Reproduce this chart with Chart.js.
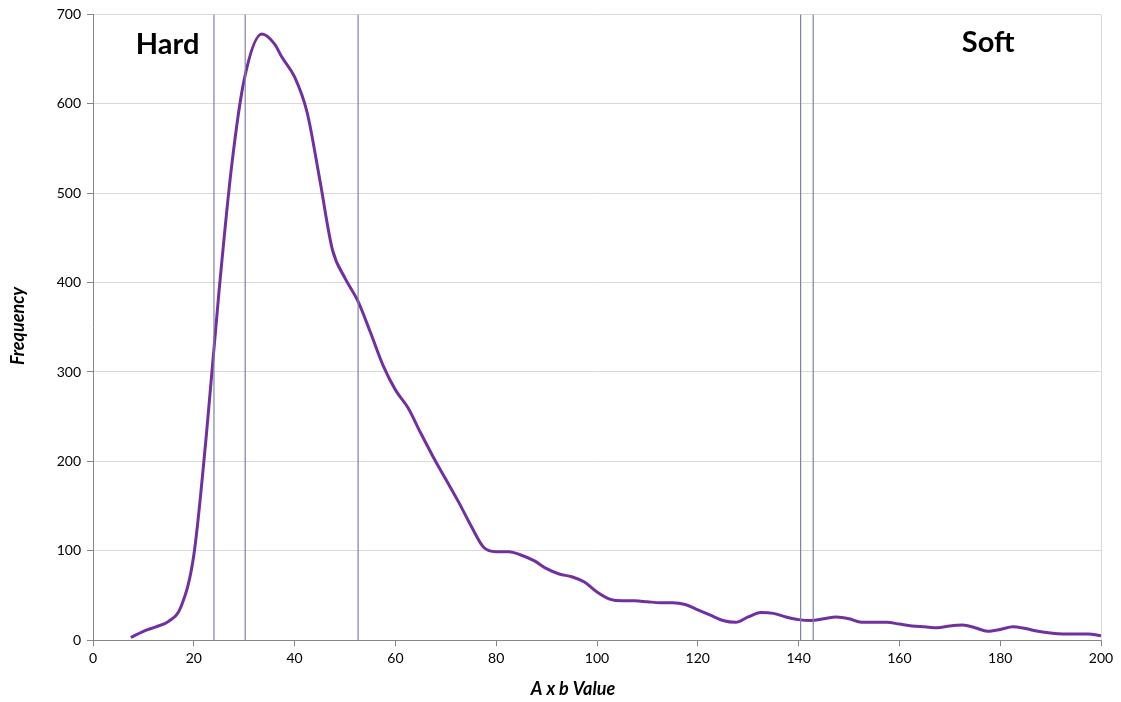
<!DOCTYPE html>
<html>
<head>
<meta charset="utf-8">
<script src="https://cdn.jsdelivr.net/npm/chart.js@4.4.0/dist/chart.umd.min.js"></script>
<style>
  html, body { margin: 0; padding: 0; background: #fff; }
  #wrap { width: 1121px; height: 702px; }
</style>
</head>
<body>
<div id="wrap"><canvas id="freqChart"></canvas></div>
<script>
// A x b values (x) and frequency
var abValues = [7.5, 10, 12.5, 15, 17.5, 20, 22.5, 25, 27.5, 30, 33.5, 36, 37.5, 40, 42.5, 45, 47.5, 50,
  52.5, 55, 57.5, 60, 62.5, 65, 67.5, 70, 72.5, 75, 77.5, 80, 82.5, 85, 87.5, 90, 92.5, 95, 97.5, 100,
  102.5, 105, 107.5, 110, 112.5, 115, 117.5, 120, 122.5, 125, 127.5, 130, 132.5, 135, 137.5, 140,
  142.5, 145, 147.5, 150, 152.5, 155, 157.5, 160, 162.5, 165, 167.5, 170, 172.5, 175, 177.5, 180,
  182.5, 185, 187.5, 190, 192.5, 195, 197.5, 200];
var frequency = [3, 10, 15, 21, 38, 95, 230, 390, 530, 627, 678, 667, 652, 630, 590, 515, 437, 405,
  380, 345, 308, 280, 260, 232, 205, 180, 155, 128, 104, 99, 99, 95, 89, 80, 74, 71, 65, 54,
  46, 44, 44, 43, 42, 42, 40, 34, 28, 22, 20, 26, 31, 30, 26, 23,
  22, 24, 26, 24, 20, 20, 20, 18, 16, 15, 14, 16, 17, 14, 10, 12,
  15, 13, 10, 8, 7, 7, 7, 5];
// boundary markers (vertical lines)
var boundaries = [24, 30.2, 52.6, 140.4, 142.9];
var yRange = [0, 700];
var zoneLabels = [
  { text: "Hard", x: 14.8, y: 666 },
  { text: "Soft", x: 177.6, y: 668 }
];
var xTitle = "A x b Value";
var yTitle = "Frequency";

var pts = abValues.map(function (v, i) { return { x: v, y: frequency[i] }; });

var datasets = boundaries.map(function (b) {
  return {
    data: [{ x: b, y: yRange[0] }, { x: b, y: yRange[1] }],
    borderColor: "#7f7fa6",
    borderWidth: 1.2,
    pointRadius: 0,
    tension: 0
  };
});
datasets.push({
  data: pts,
  borderColor: "#7030a0",
  borderWidth: 3,
  pointRadius: 0,
  tension: 0.4,
  cubicInterpolationMode: "monotone"
});

var extras = {
  id: "extras",
  afterDraw: function (chart) {
    var ctx = chart.ctx, a = chart.chartArea;
    var xs = chart.scales.x, ys = chart.scales.y;
    ctx.save();
    ctx.strokeStyle = "#d9d9d9";
    ctx.lineWidth = 1;
    ctx.beginPath();
    ctx.moveTo(Math.round(a.right) + 0.5, a.top);
    ctx.lineTo(Math.round(a.right) + 0.5, a.bottom);
    ctx.stroke();
    ctx.fillStyle = "#000";
    ctx.font = "bold 29px Lato";
    ctx.textAlign = "center";
    ctx.textBaseline = "middle";
    zoneLabels.forEach(function (z) {
      ctx.fillText(z.text, xs.getPixelForValue(z.x), ys.getPixelForValue(z.y));
    });
    // axis titles
    ctx.font = "italic bold 18px Lato";
    ctx.fillText(xTitle, 573, 689);
    ctx.translate(18, 326);
    ctx.rotate(-Math.PI / 2);
    ctx.fillText(yTitle, 0, 0);
    ctx.restore();
  }
};

Chart.defaults.font.family = "Lato";
new Chart(document.getElementById("freqChart"), {
  type: "line",
  data: { datasets: datasets },
  options: {
    responsive: true,
    maintainAspectRatio: false,
    animation: false,
    layout: { padding: { top: 10, right: 20, left: 0, bottom: 31 } },
    plugins: { legend: { display: false }, tooltip: { enabled: false } },
    scales: {
      x: {
        type: "linear",
        min: 0,
        max: 200,
        ticks: { stepSize: 20, color: "#000", font: { size: 14 }, padding: 4 },
        grid: { drawOnChartArea: false, color: "#868686", tickLength: 6 },
        border: { color: "#868686", width: 1 }
      },
      y: {
        min: yRange[0],
        max: yRange[1],
        ticks: { stepSize: 100, color: "#000", font: { size: 14 }, padding: 6 },
        grid: { color: "#d9d9d9", tickColor: "#868686", tickLength: 6 },
        border: { color: "#868686", width: 1 },
        afterFit: function (s) { s.width = 93; }
      }
    }
  },
  plugins: [extras]
});
</script>
</body>
</html>
